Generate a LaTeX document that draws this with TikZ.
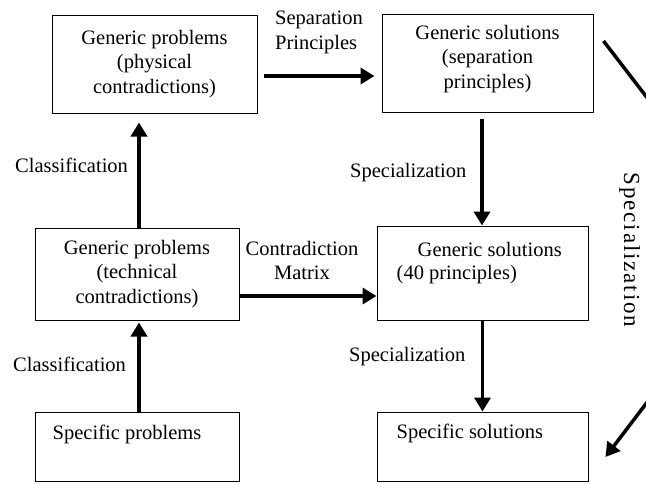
\documentclass[tikz,border=0pt]{standalone}
\usepackage{fontspec}
\setmainfont{Liberation Serif}
\usetikzlibrary{arrows.meta,calc}
\newcommand\myfs{\fontsize{20.5}{24.5}\selectfont}
\begin{document}
\begin{tikzpicture}[x=1pt,y=-1pt,
  box/.style={draw, line width=1pt, inner sep=0pt, font=\myfs, align=center},
  lbl/.style={font=\myfs, inner sep=0pt},
  arr/.style={line width=3.5pt, -{Triangle[length=14pt,width=16pt]}},
]
\useasboundingbox (0,0) rectangle (646,483);
\clip (0,0) rectangle (646,483);

% boxes
\node[box, minimum width=205pt, minimum height=98pt] (b1) at (154.5,64)
  {Generic problems\\(physical\\contradictions)};
\node[box, minimum width=211pt, minimum height=98pt, text depth=12.5pt] (b2) at (487.5,63)
  {Generic solutions\\(separation\\principles)};
\node[box, minimum width=204pt, minimum height=92pt] (b3) at (137,274)
  {Generic problems\\(technical\\contradictions)};
\node[box, minimum width=211pt, minimum height=94pt] (b4) at (482.5,273) {};
\node[box, minimum width=204pt, minimum height=69pt] (b5) at (137,446.5) {};
\node[box, minimum width=211pt, minimum height=69pt] (b6) at (482.5,446.5) {};

% texts placed at the top of boxes
\node[lbl, anchor=base west] (t4a) at ($(b4.north west)+(41,31)$) {Generic solutions};
\node[lbl, anchor=base west] (t4b) at ($(b4.north west)+(20,54)$) {(40 principles)};
\node[lbl, anchor=base west] (t5) at ($(b5.north west)+(18,28)$) {Specific problems};
\node[lbl, anchor=base west] (t6) at ($(b6.north west)+(20,27)$) {Specific solutions};

% connector labels
\node[lbl, align=left, anchor=north west] (lsep) at (275,11) {Separation\\Principles};
\node[lbl, align=center, anchor=north] (lcm) at (302,241) {Contradiction\\Matrix};
\node[lbl, anchor=base west] (lc1) at (15,172) {Classification};
\node[lbl, anchor=base west] (lc2) at (13,371) {Classification};
\node[lbl, anchor=base west] (ls1) at (350,177) {Specialization};
\node[lbl, anchor=base west] (ls2) at (349,361) {Specialization};
\node[inner sep=0pt, rotate=-90, anchor=base,
  font={\fontsize{23}{27}\selectfont\addfontfeature{LetterSpace=8}}] (ls3) at (624,250) {Specialization};

% arrows
\draw[arr, shorten <=6pt, shorten >=7pt] ([yshift=-12pt]b1.east) -- ([yshift=-12pt]b1.east -| b2.west);
\draw[arr, shorten >=9pt] ([xshift=2pt]b3.north) -- ([xshift=2pt]b3.north |- b1.south);
\draw[arr, shorten >=2pt] ([xshift=2pt]b5.north) -- ([xshift=2pt]b5.north |- b3.south);
\draw[arr, shorten <=6pt] ([xshift=-5.5pt]b2.south) -- ([xshift=-5.5pt]b2.south |- b4.north);
\draw[arr] (b4.south) -- (b6.north);
\draw[arr] ([yshift=-22pt]b3.east) -- ([yshift=-22pt]b3.east -| b4.west);

% long diagonal connector running off the right edge
\coordinate (d1) at ([xshift=10pt,yshift=22pt]b2.east);
\coordinate (d2) at ([xshift=17pt,yshift=-10.5pt]b6.east);
\draw[arr] (d1) -- ++(80,104) -- ($(d2)+(76,-100)$) -- (d2);
\end{tikzpicture}
\end{document}
